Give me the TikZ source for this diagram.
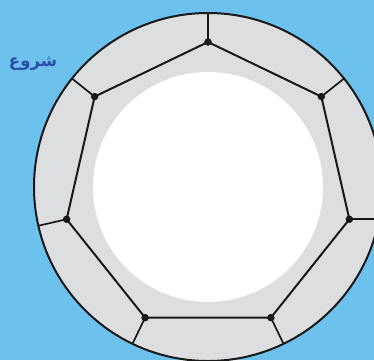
\documentclass[tikz,border=0pt]{standalone}
\usepackage{fontspec}
\newfontfamily\arabicfont[Script=Arabic]{DejaVu Sans}
\TeXXeTstate=1
\definecolor{skyblue}{RGB}{108,194,236}
\definecolor{ringgray}{RGB}{221,222,224}
\definecolor{labelblue}{RGB}{42,78,168}

\begin{document}
\begin{tikzpicture}[x=1pt, y=1pt,
    ring/.style={draw=black!90, line width=2pt, fill=ringgray},
    edge/.style={line width=2pt, black!90},
    spoke/.style={line width=1.7pt, black!90},
    vdot/.style={circle, fill=black!90, inner sep=0pt, minimum size=7.5pt},
    label/.style={font=\arabicfont\bfseries\fontsize{16.5}{19}\selectfont, text=labelblue},
  ]
    \fill[skyblue] (0,0) rectangle (374,-360);
    \useasboundingbox (0,0) rectangle (374,-360);
    \coordinate (ctr) at (208,-187);
    \draw[ring] (ctr) circle[radius=174];
    \fill[white] (ctr) circle[radius=115];
    % corners of the heptagon and their points on the rim
    \foreach \i [evaluate=\i as \ang using 90-51.4286*(\i-1)] in {1,...,7} {
      \coordinate (v\i)   at ([shift={(\ang:145)}]ctr);
      \coordinate (rim\i) at ([shift={(\ang:174)}]ctr);
    }
    \coordinate (rim3) at ([shift={(40,0)}]v3);
    \foreach \i in {1,...,7}
      \draw[spoke] (v\i) -- (rim\i);
    \draw[edge] (v1) -- (v2) -- (v3) -- (v4) -- (v5) -- (v6) -- (v7) -- cycle;
    \foreach \i in {1,...,7}
      \node[vdot] (d\i) at (v\i) {};
    \node[label] (start) at (33,-64) {\beginR شروع\endR};
  \end{tikzpicture}
\end{document}
